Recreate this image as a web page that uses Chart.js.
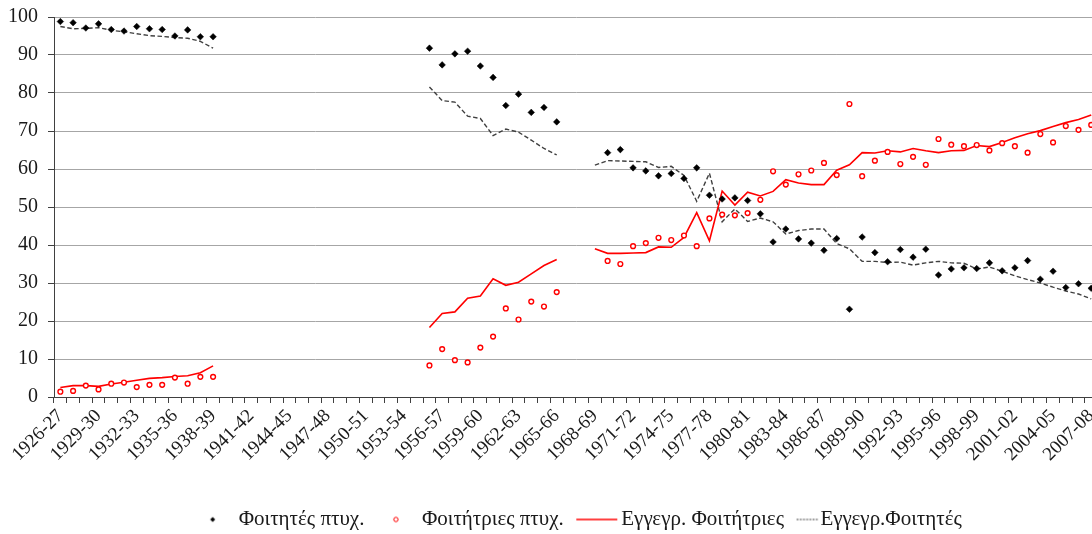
<!DOCTYPE html>
<html>
<head>
<meta charset="utf-8">
<script src="https://cdn.jsdelivr.net/npm/chart.js@4.4.1/dist/chart.umd.min.js"></script>
<style>
  html, body { margin: 0; padding: 0; background: #fff; overflow: hidden; }
  #wrap { width: 1092px; height: 534px; overflow: hidden; }
  canvas { display: block; }
</style>
</head>
<body>
<div id="wrap"><canvas id="chart" width="1103" height="534"></canvas></div>
<script>
// academic years on the x axis
var years = [
  "1926-27", "1927-28", "1928-29", "1929-30", "1930-31", "1931-32", "1932-33", "1933-34", "1934-35", "1935-36",
  "1936-37", "1937-38", "1938-39", "1939-40", "1940-41", "1941-42", "1942-43", "1943-44", "1944-45", "1945-46",
  "1946-47", "1947-48", "1948-49", "1949-50", "1950-51", "1951-52", "1952-53", "1953-54", "1954-55", "1955-56",
  "1956-57", "1957-58", "1958-59", "1959-60", "1960-61", "1961-62", "1962-63", "1963-64", "1964-65", "1965-66",
  "1966-67", "1967-68", "1968-69", "1969-70", "1970-71", "1971-72", "1972-73", "1973-74", "1974-75", "1975-76",
  "1976-77", "1977-78", "1978-79", "1979-80", "1980-81", "1981-82", "1982-83", "1983-84", "1984-85", "1985-86",
  "1986-87", "1987-88", "1988-89", "1989-90", "1990-91", "1991-92", "1992-93", "1993-94", "1994-95", "1995-96",
  "1996-97", "1997-98", "1998-99", "1999-00", "2000-01", "2001-02", "2002-03", "2003-04", "2004-05", "2005-06",
  "2006-07", "2007-08"
];

// % of graduates who are men (null = no data)
var menGrad = [
  98.8, 98.5, 97.1, 98.2, 96.7, 96.3, 97.5, 96.9, 96.7, 95.0, 96.6, 94.8, 94.8,
  null, null, null, null, null, null, null, null, null, null, null, null, null, null, null, null,
  91.8, 87.4, 90.3, 91.0, 87.1, 84.1, 76.7, 79.7, 74.9, 76.2, 72.4,
  null, null, null,
  64.3, 65.1, 60.3, 59.5, 58.2, 58.8, 57.5, 60.3, 53.1, 52.1, 52.4, 51.7, 48.2, 40.8, 44.2, 41.6, 40.5, 38.6, 41.7,
  23.1, 42.1, 38.0, 35.6, 38.8, 36.8, 38.9, 32.1, 33.7, 34.0, 33.8, 35.3, 33.2, 34.0, 35.9, 31.0, 33.1, 28.8, 29.8, 28.6
];

// % of graduates who are women
var womenGrad = [
  1.4, 1.6, 3.0, 2.0, 3.5, 3.8, 2.6, 3.2, 3.2, 5.1, 3.5, 5.3, 5.3,
  null, null, null, null, null, null, null, null, null, null, null, null, null, null, null, null,
  8.3, 12.6, 9.7, 9.1, 13.0, 15.9, 23.3, 20.4, 25.1, 23.8, 27.6,
  null, null, null,
  35.8, 35.0, 39.7, 40.5, 41.9, 41.3, 42.5, 39.7, 47.0, 48.0, 47.8, 48.4, 51.9, 59.4, 55.9, 58.6, 59.6, 61.6, 58.4,
  77.1, 58.1, 62.2, 64.5, 61.3, 63.2, 61.1, 67.9, 66.4, 66.0, 66.3, 64.9, 66.8, 66.0, 64.3, 69.2, 67.0, 71.3, 70.3, 71.6
];

// % of enrolled students who are women
var womenEnrolled = [
  2.5, 3.0, 3.0, 2.8, 3.4, 3.9, 4.4, 4.9, 5.1, 5.4, 5.6, 6.4, 8.2,
  null, null, null, null, null, null, null, null, null, null, null, null, null, null, null, null,
  18.3, 22.0, 22.4, 26.0, 26.6, 31.1, 29.4, 30.2, 32.4, 34.6, 36.2,
  null, null,
  39.0, 37.8, 37.8, 37.9, 38.0, 39.5, 39.4, 42.0, 48.5, 41.1, 54.2, 50.5, 53.9, 52.9, 54.1, 57.2, 56.3, 55.9, 55.9, 59.7,
  61.1, 64.3, 64.2, 64.8, 64.5, 65.4, 64.8, 64.3, 64.8, 64.9, 66.2, 65.9, 67.0, 68.2, 69.3, 70.1, 71.2, 72.2, 73.0, 74.2
];

// % of enrolled students who are men
var menEnrolled = [
  97.5, 96.9, 97.0, 97.2, 96.5, 96.1, 95.6, 95.1, 94.9, 94.6, 94.4, 93.6, 91.8,
  null, null, null, null, null, null, null, null, null, null, null, null, null, null, null, null,
  81.6, 78.0, 77.6, 73.9, 73.3, 68.8, 70.5, 69.7, 67.6, 65.4, 63.7,
  null, null,
  61.0, 62.2, 62.1, 62.0, 61.9, 60.4, 60.7, 58.3, 51.5, 58.9, 46.1, 49.5, 46.2, 47.1, 46.1, 42.9, 43.8, 44.2, 44.2, 40.4,
  39.0, 35.7, 35.7, 35.4, 35.5, 34.7, 35.3, 35.7, 35.3, 35.2, 33.7, 34.2, 33.1, 31.9, 30.9, 30.0, 28.9, 27.9, 27.1, 25.8
];

var seriesNames = ["Φοιτητές πτυχ.", "Φοιτήτριες πτυχ.", "Εγγεγρ. Φοιτήτριες", "Εγγεγρ.Φοιτητές"];

var serif = "'Liberation Serif', 'Times New Roman', serif";
var textColor = "#1a1a1a";
var axisColor = "#404040";
var legendSize = 21;

// small canvases used as legend symbols
function makeIcon(w, h, draw)
{
	var c = document.createElement("canvas");
	c.width = w;
	c.height = h;
	draw(c.getContext("2d"));
	return c;
}

var legendIcons = [
	makeIcon(40, 20, function(ctx) {
		ctx.fillStyle = "#000";
		ctx.beginPath();
		ctx.moveTo(15, 7.5); ctx.lineTo(17.5, 10); ctx.lineTo(15, 12.5); ctx.lineTo(12.5, 10);
		ctx.closePath();
		ctx.fill();
	}),
	makeIcon(40, 20, function(ctx) {
		ctx.strokeStyle = "#ff0000";
		ctx.lineWidth = 1;
		ctx.beginPath();
		ctx.arc(15, 10, 2.2, 0, Math.PI * 2);
		ctx.stroke();
	}),
	makeIcon(80, 20, function(ctx) {
		ctx.strokeStyle = "#ff0000";
		ctx.lineWidth = 1.6;
		ctx.beginPath();
		ctx.moveTo(16, 10); ctx.lineTo(57, 10);
		ctx.stroke();
	}),
	makeIcon(80, 20, function(ctx) {
		ctx.strokeStyle = axisColor;
		ctx.lineWidth = 1.2;
		ctx.setLineDash([2, 1.2]);
		ctx.beginPath();
		ctx.moveTo(37, 10); ctx.lineTo(59, 10);
		ctx.stroke();
	})
];

// extra space after the first two legend entries
var legendText = [seriesNames[0] + "\u2003", seriesNames[1] + "\u2003", seriesNames[2], seriesNames[3]];

// moves the legend block off the canvas centre
var legendShift = {
	id: "legendShift",
	afterLayout: function(chart)
	{
		var lg = chart.legend;
		lg.left += 33; lg.right += 33;
		lg.top += 6; lg.bottom += 6;
	}
};

var chart = new Chart(document.getElementById("chart"),
{
	type: "line",
	data:
	{
		labels: years,
		datasets:
		[
			{
				label: seriesNames[0],
				data: menGrad,
				showLine: false,
				pointStyle: "rectRot",
				pointRadius: 3.3,
				pointBackgroundColor: "#000",
				pointBorderColor: "#000",
				pointBorderWidth: 0.5,
				borderColor: "#000",
				backgroundColor: "#000"
			},
			{
				label: seriesNames[1],
				data: womenGrad,
				showLine: false,
				pointStyle: "circle",
				pointRadius: 2.4,
				pointBackgroundColor: "#fff",
				pointBorderColor: "#ff0000",
				pointBorderWidth: 1.4,
				borderColor: "#ff0000",
				backgroundColor: "#fff"
			},
			{
				label: seriesNames[2],
				data: womenEnrolled,
				borderColor: "#ff0000",
				borderWidth: 1.6,
				pointRadius: 0,
				tension: 0,
				spanGaps: false
			},
			{
				label: seriesNames[3],
				data: menEnrolled,
				borderColor: axisColor,
				borderWidth: 1.4,
				borderDash: [4.5, 2.5],
				pointRadius: 0,
				tension: 0,
				spanGaps: false
			}
		]
	},
	options:
	{
		responsive: false,
		animation: false,
		layout: { padding: { top: 17, left: 0, right: 0, bottom: 0 } },
		scales:
		{
			x:
			{
				offset: true,
				grid: { offset: true, drawOnChartArea: false, drawTicks: true, tickLength: 6, color: axisColor },
				border: { color: axisColor },
				ticks:
				{
					autoSkip: false,
					maxRotation: 45,
					minRotation: 45,
					padding: 2,
					color: textColor,
					font: { family: serif, size: 19 },
					callback: function(value, index)
					{
						return index % 3 === 0 ? this.getLabelForValue(value) : "";
					}
				},
				afterFit: function(scale)
				{
					scale.paddingLeft = 0;
					scale.paddingRight = 0;
					var lgH = scale.chart.legend ? scale.chart.legend.height : 0;
					scale.height = scale.chart.height - 397 - lgH;
				}
			},
			y:
			{
				min: 0,
				max: 100,
				grid: { color: "#a6a6a6", tickLength: 6, tickColor: axisColor },
				border: { color: axisColor },
				ticks:
				{
					stepSize: 10,
					padding: 10,
					color: textColor,
					font: { family: serif, size: 20 }
				},
				afterFit: function(scale)
				{
					scale.width = 54;
					scale.paddingTop = 0;
					scale.paddingBottom = 0;
				}
			}
		},
		plugins:
		{
			tooltip: { enabled: false },
			legend:
			{
				position: "bottom",
				labels:
				{
					usePointStyle: true,
					padding: 5,
					color: textColor,
					font: { family: serif, size: legendSize },
					generateLabels: function(c)
					{
						var items = Chart.defaults.plugins.legend.labels.generateLabels(c);
						items.forEach(function(it, i)
						{
							it.pointStyle = legendIcons[i];
							it.text = legendText[i];
						});
						return items;
					}
				}
			}
		}
	},
	plugins: [legendShift]
});
</script>
</body>
</html>
